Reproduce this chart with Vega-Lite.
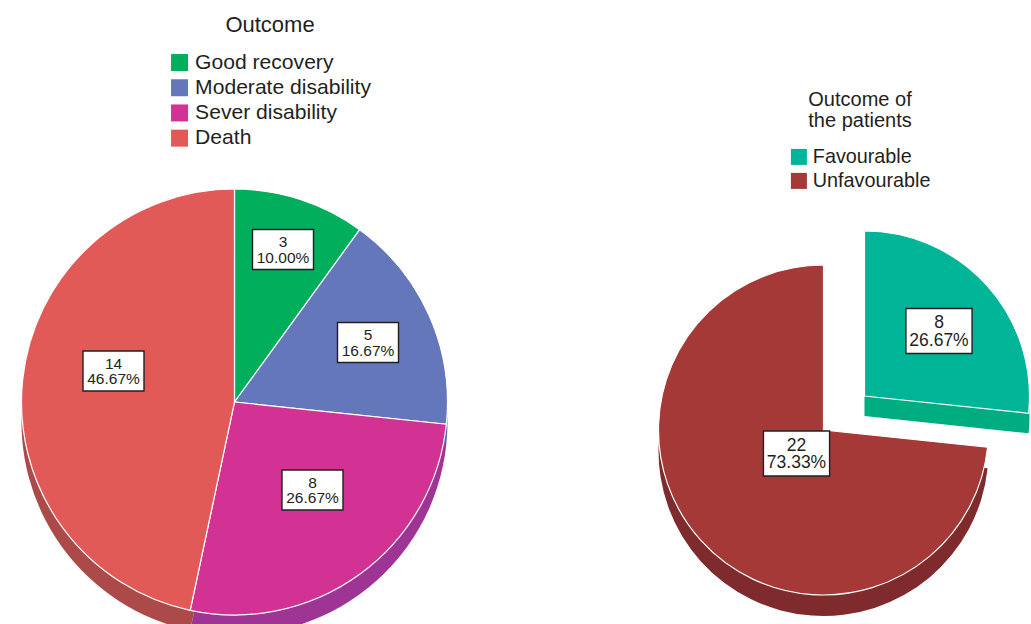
{
"$schema":"https://vega.github.io/schema/vega-lite/v6.json",
"width":1031,"height":624,"padding":0,"autosize":"none","background":"white",
"config":{"view":{"stroke":null},"font":"Liberation Sans","legend":{"symbolType":"square","symbolStrokeWidth":0,"titleFontWeight":"normal","titleColor":"#231f20","labelColor":"#231f20","orient":"none","labelLimit":400,"titleLimit":400}},
"datasets":{
"outcome":[
{"pie":"Outcome","status":"Good recovery","n":3,"rank":1,"label":"3\n10.00%"},
{"pie":"Outcome","status":"Moderate disability","n":5,"rank":2,"label":"5\n16.67%"},
{"pie":"Outcome","status":"Sever disability","n":8,"rank":3,"label":"8\n26.67%"},
{"pie":"Outcome","status":"Death","n":14,"rank":4,"label":"14\n46.67%"}],
"patients":[
{"pie":"Patients","status":"Favourable","n":8,"rank":1,"label":"8\n26.67%"},
{"pie":"Patients","status":"Unfavourable","n":22,"rank":2,"label":"22\n73.33%"}]},
"resolve":{"scale":{"x":"independent","y":"independent","theta":"independent","color":"independent"}},
"layer":[
{"data":{"name":"outcome"},"mark":{"type":"arc","outerRadius":213,"innerRadius":0},
"encoding":{"x":{"field":"pie","type":"nominal","axis":null,"scale":{"range":[234.5,234.5]}},"y":{"field":"pie","type":"nominal","axis":null,"scale":{"range":[422,422]}},
"theta":{"field":"n","type":"quantitative","stack":true,"scale":{"domain":[0,30],"range":[0,6.2832]}},"order":{"field":"rank"},
"color":{"field":"status","type":"nominal","legend":null,"sort":null,"scale":{"domain":["Good recovery","Moderate disability","Sever disability","Death"],"range":["#00a458","#5568a8","#9e3595","#ab4a48"]}}}},
{"data":{"name":"outcome"},"mark":{"type":"arc","outerRadius":213,"innerRadius":0,"stroke":"white","strokeWidth":1.2},
"encoding":{"x":{"field":"pie","type":"nominal","axis":null,"scale":{"range":[234.5,234.5]}},"y":{"field":"pie","type":"nominal","axis":null,"scale":{"range":[402,402]}},
"theta":{"field":"n","type":"quantitative","stack":true,"scale":{"domain":[0,30],"range":[0,6.2832]}},"order":{"field":"rank"},
"color":{"field":"status","type":"nominal","sort":null,"scale":{"domain":["Good recovery","Moderate disability","Sever disability","Death"],"range":["#00ae5b","#6477bb","#d23294","#e25a57"]},
"legend":{"title":"Outcome","legendX":169,"legendY":15,"titleFontSize":22,"labelFontSize":21.1,"symbolSize":289,"labelOffset":5,"rowPadding":3.2,"titlePadding":15,"titleAnchor":"middle","titleAlign":"center"}}}},
{"data":{"name":"patients"},"transform":[{"filter":"datum.status=='Unfavourable'"}],"mark":{"type":"arc","outerRadius":165,"innerRadius":0},
"encoding":{"x":{"field":"pie","type":"nominal","axis":null,"scale":{"range":[823.5,823.5]}},"y":{"field":"pie","type":"nominal","axis":null,"scale":{"range":[451,451]}},
"theta":{"field":"n","type":"quantitative","scale":{"domain":[0,22],"range":[1.6755,6.2832]}},
"color":{"value":"#7f2a2c"}}},
{"data":{"name":"patients"},"transform":[{"filter":"datum.status=='Favourable'"}],"mark":{"type":"arc","outerRadius":165,"innerRadius":0},
"encoding":{"x":{"field":"pie","type":"nominal","axis":null,"scale":{"range":[864.5,864.5]}},"y":{"field":"pie","type":"nominal","axis":null,"scale":{"range":[416,416]}},
"theta":{"field":"n","type":"quantitative","scale":{"domain":[0,8],"range":[0,1.6755]}},
"color":{"value":"#00ad80"}}},
{"data":{"name":"patients"},"transform":[{"filter":"datum.status=='Unfavourable'"}],"mark":{"type":"arc","outerRadius":165,"innerRadius":0,"stroke":"white","strokeWidth":1.2},
"encoding":{"x":{"field":"pie","type":"nominal","axis":null,"scale":{"range":[823.5,823.5]}},"y":{"field":"pie","type":"nominal","axis":null,"scale":{"range":[430,430]}},
"theta":{"field":"n","type":"quantitative","scale":{"domain":[0,22],"range":[1.6755,6.2832]}},
"color":{"field":"status","type":"nominal","legend":null,"scale":{"domain":["Favourable","Unfavourable"],"range":["#00b497","#a43938"]}}}},
{"data":{"name":"patients"},"transform":[{"filter":"datum.status=='Favourable'"}],"mark":{"type":"arc","outerRadius":165,"innerRadius":0,"stroke":"white","strokeWidth":1.2},
"encoding":{"x":{"field":"pie","type":"nominal","axis":null,"scale":{"range":[864.5,864.5]}},"y":{"field":"pie","type":"nominal","axis":null,"scale":{"range":[396,396]}},
"theta":{"field":"n","type":"quantitative","scale":{"domain":[0,8],"range":[0,1.6755]}},
"color":{"field":"status","type":"nominal","sort":null,"scale":{"domain":["Favourable","Unfavourable"],"range":["#00b497","#a43938"]},
"legend":{"title":["Outcome of","the patients"],"legendX":789,"legendY":90,"titleFontSize":20,"titleLineHeight":21,"labelFontSize":19.8,"symbolSize":256,"labelOffset":4,"rowPadding":3,"titlePadding":16,"titleAnchor":"middle","titleAlign":"center"}}}},
{"data":{"name":"outcome"},"mark":{"type":"point","shape":"M-1.525,-1H1.525V1H-1.525Z","size":1600,"filled":true,"fill":"white","stroke":"#231f20","strokeWidth":1.4,"opacity":1},
"encoding":{"x":{"field":"n","type":"quantitative","axis":null,"scale":{"domain":[3,5,8,14],"range":[283,368,312.5,113.5]}},"y":{"field":"n","type":"quantitative","axis":null,"scale":{"domain":[3,5,8,14],"range":[249.5,342.5,490,371]}}}},
{"data":{"name":"outcome"},"mark":{"type":"text","fontSize":15.5,"lineBreak":"\n","lineHeight":15.5,"baseline":"middle","align":"center","color":"#231f20"},
"encoding":{"x":{"field":"n","type":"quantitative","axis":null,"scale":{"domain":[3,5,8,14],"range":[283,368,312.5,113.5]}},"y":{"field":"n","type":"quantitative","axis":null,"scale":{"domain":[3,5,8,14],"range":[242,335,482.5,363.5]}},"text":{"field":"label"}}},
{"data":{"name":"patients"},"mark":{"type":"point","shape":"M-1.47,-1H1.47V1H-1.47Z","size":2025,"filled":true,"fill":"white","stroke":"#231f20","strokeWidth":1.4,"opacity":1},
"encoding":{"x":{"field":"n","type":"quantitative","axis":null,"scale":{"domain":[8,22],"range":[939,796.5]}},"y":{"field":"n","type":"quantitative","axis":null,"scale":{"domain":[8,22],"range":[331,453.5]}}}},
{"data":{"name":"patients"},"mark":{"type":"text","fontSize":17.5,"lineBreak":"\n","lineHeight":17.5,"baseline":"middle","align":"center","color":"#231f20"},
"encoding":{"x":{"field":"n","type":"quantitative","axis":null,"scale":{"domain":[8,22],"range":[939,796.5]}},"y":{"field":"n","type":"quantitative","axis":null,"scale":{"domain":[8,22],"range":[323,445.5]}},"text":{"field":"label"}}}
]}
